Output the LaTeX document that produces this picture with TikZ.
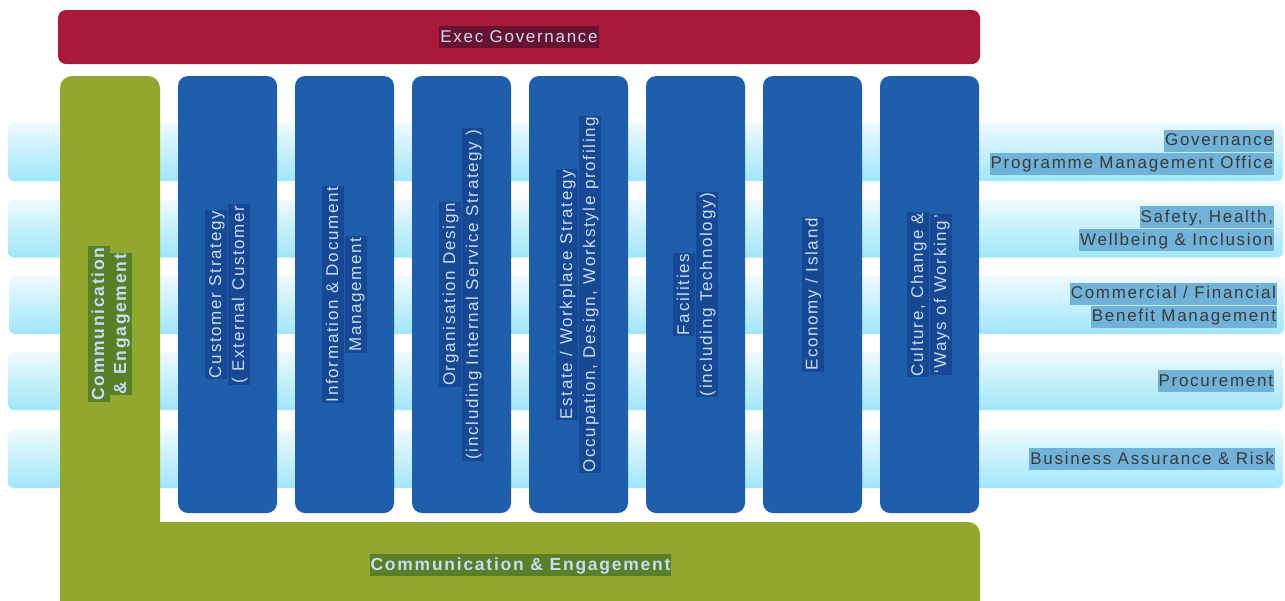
\documentclass[tikz,border=0pt]{standalone}
\usepackage{fontspec}
\setmainfont{Liberation Sans}[LetterSpace=10]
\usetikzlibrary{positioning}
\definecolor{execred}{RGB}{168,25,58}
\definecolor{exechl}{RGB}{104,18,50}
\definecolor{commgreen}{RGB}{145,167,48}
\definecolor{commhl}{RGB}{88,128,40}
\definecolor{workblue}{RGB}{30,94,170}
\definecolor{workhl}{RGB}{22,72,148}
\definecolor{bandtop}{RGB}{238,250,254}
\definecolor{bandbot}{RGB}{160,230,250}
\definecolor{labelhl}{RGB}{112,178,216}
\definecolor{labeltext}{RGB}{58,58,58}
\definecolor{lighttext}{RGB}{200,220,242}
\colorlet{hlcol}{labelhl}
\setlength{\fboxsep}{1pt}
\newcommand{\hlt}[1]{\colorbox{hlcol}{\rule[-5pt]{0pt}{20pt}#1}}

\begin{document}
\begin{tikzpicture}[x=1pt, y=-1pt,
txt/.style={font=\fontsize{17}{21}\selectfont},
execbar/.style={txt, rectangle, rounded corners=8pt, fill=execred, minimum width=922pt, minimum height=54pt, text=lighttext, execute at begin node={\colorlet{hlcol}{exechl}}},
workcol/.style={txt, rectangle, rounded corners=10pt, fill=workblue, rotate=90, minimum width=437pt, minimum height=99pt, align=center, text=lighttext, execute at begin node={\colorlet{hlcol}{workhl}}},
band/.style={rectangle, rounded corners=6pt, top color=bandtop, bottom color=bandbot, minimum width=1275pt, minimum height=58pt},
bandlabel/.style={txt, anchor=east, align=right, inner sep=0pt, text=labeltext, execute at begin node={\colorlet{hlcol}{labelhl}}},
commlabel/.style={font=\fontsize{17.5}{22}\selectfont\bfseries, align=center, inner sep=0pt, text=lighttext, execute at begin node={\colorlet{hlcol}{commhl}}},
]
\useasboundingbox (0,0) rectangle (1285,600);

%Bands
\node[band] (gov)   at (645.5,152) {};
\node[band] (safe)  at (645.5,228.5) {};
\node[band] (comm)  at (646.5,305) {};
\node[band] (proc)  at (645.5,381) {};
\node[band] (risk)  at (645.5,459) {};
\node[bandlabel] (govtext)  at ([xshift=-9pt]gov.east)  {\hlt{Governance}\\\hlt{Programme Management Office}};
\node[bandlabel] (safetext) at ([xshift=-9pt]safe.east) {\hlt{Safety, Health,}\\\hlt{Wellbeing \& Inclusion}};
\node[bandlabel] (commtext) at ([xshift=-7pt]comm.east) {\hlt{Commercial / Financial}\\\hlt{Benefit Management}};
\node[bandlabel] (proctext) at ([xshift=-9pt]proc.east) {\hlt{Procurement}};
\node[bandlabel] (risktext) at ([xshift=-8pt]risk.east) {\hlt{Business Assurance \& Risk}};

%Communication frame
\fill[commgreen, rounded corners=12pt] (60,76) rectangle (160,615);
\fill[commgreen, rounded corners=12pt] (60,522) rectangle (980,615);
\node[commlabel, rotate=90] (commside) at (110,324) {\hlt{Communication}\\\hlt{\& Engagement}};
\node[commlabel] (commbottom) at (520.5,565) {\hlt{Communication \& Engagement}};

%Workstreams
\node[workcol] (cust)    at (227.5,294.5) {\hlt{Customer Strategy}\\\hlt{( External Customer}};
\node[workcol] (info)    at (344.5,294.5) {\hlt{Information \& Document}\\\hlt{Management}};
\node[workcol] (org)     at (461.5,294.5) {\hlt{Organisation Design}\\\hlt{(including Internal Service Strategy )}};
\node[workcol] (estate)  at (578.5,294.5) {\hlt{Estate / Workplace Strategy}\\\hlt{Occupation, Design, Workstyle profiling}};
\node[workcol] (facil)   at (695.5,294.5) {\hlt{Facilities}\\\hlt{(including Technology)}};
\node[workcol] (economy) at (812.5,294.5) {\hlt{Economy / Island}};
\node[workcol] (culture) at (929.5,294.5) {\hlt{Culture, Change \&}\\\hlt{`Ways of Working'}};

%Exec
\node[execbar] (exec) at (519,37) {\hlt{Exec Governance}};
\end{tikzpicture}
\end{document}
